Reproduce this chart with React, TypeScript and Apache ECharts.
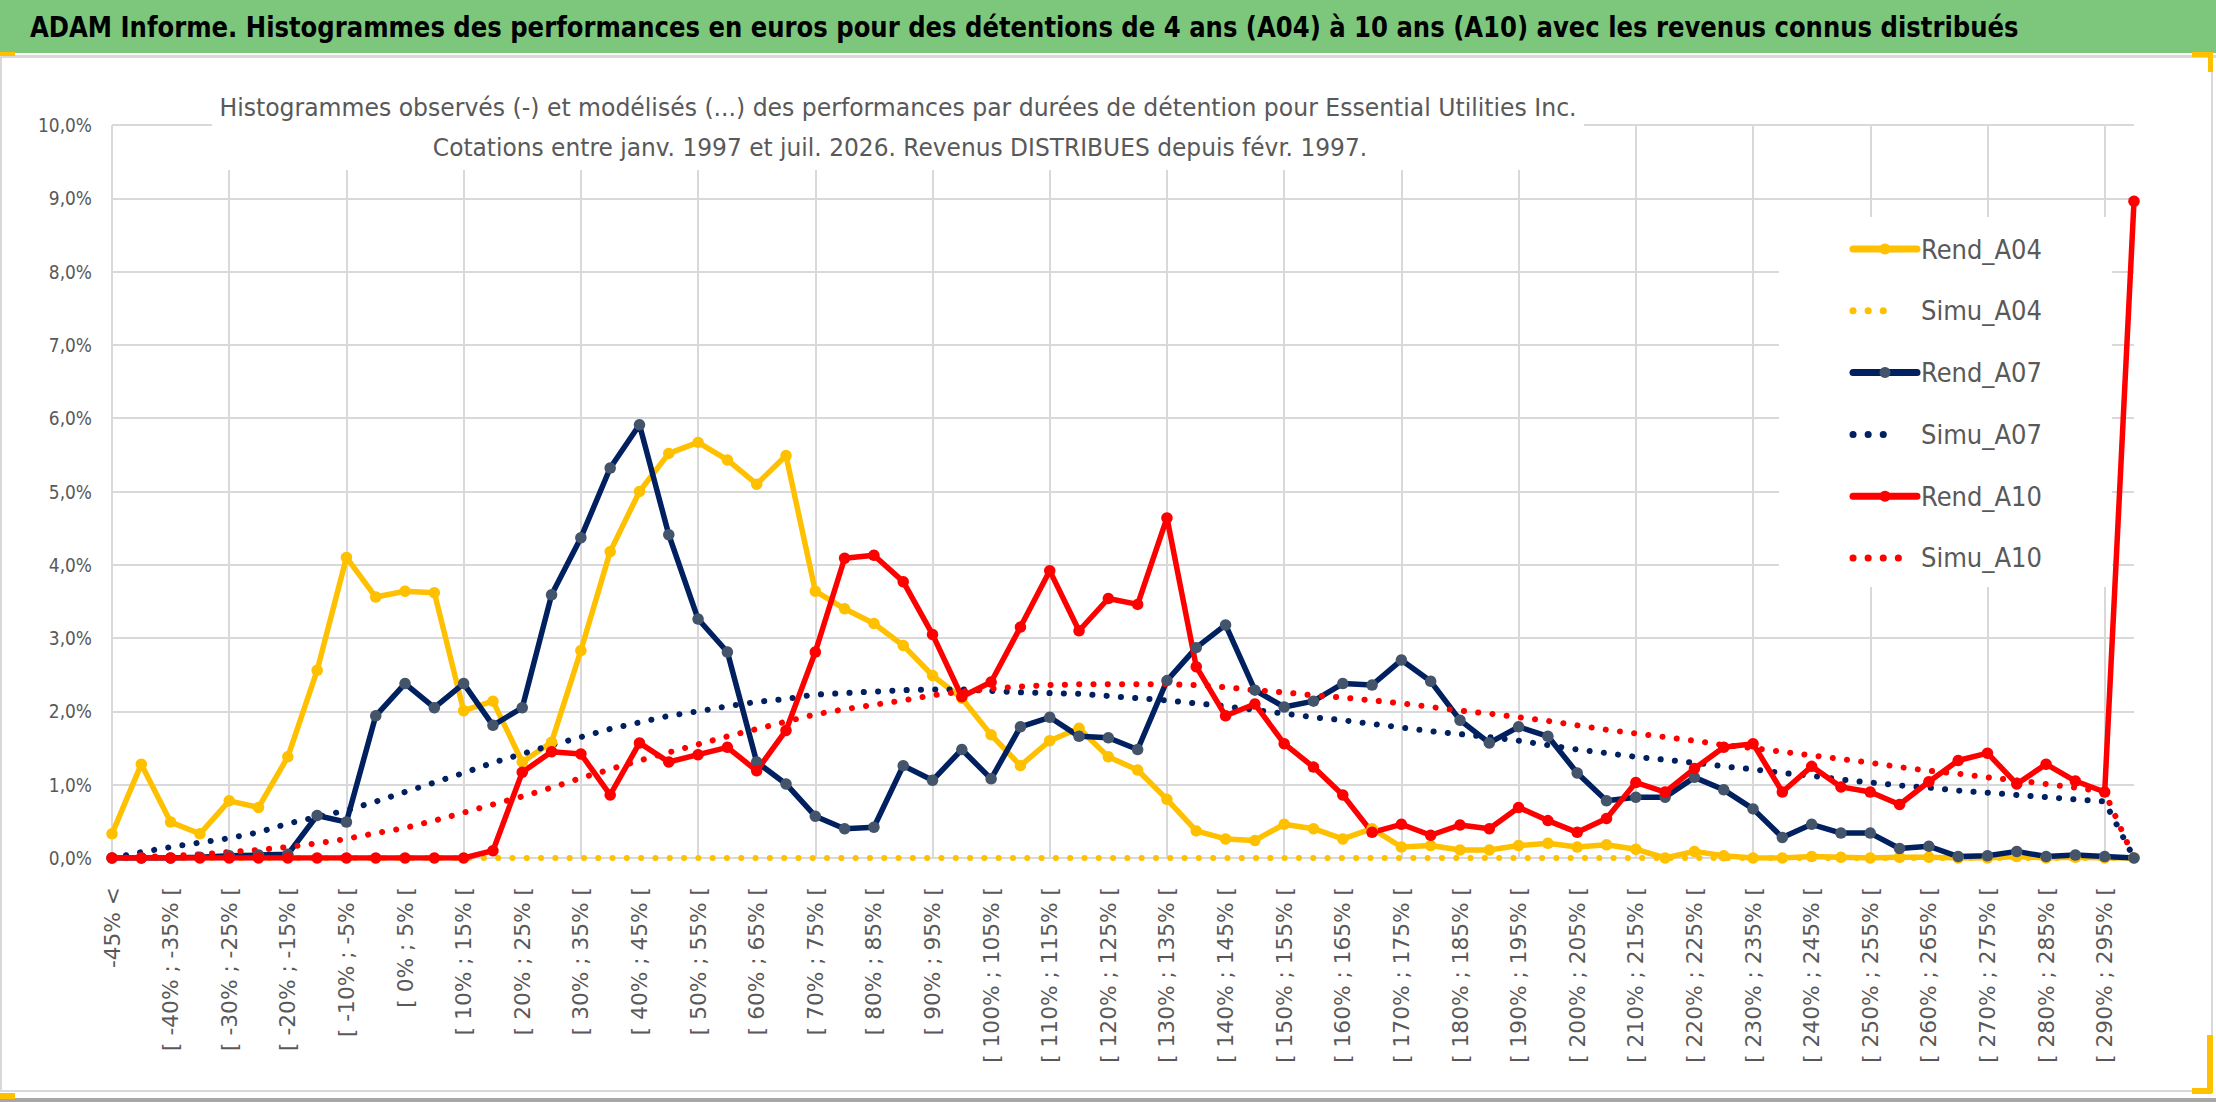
import React, { useRef, useEffect } from 'react';
import * as echarts from 'echarts';

// classes de performance (5 points) ; la dernière regroupe tout ce qui dépasse 295 %
const categories = [
    '-45% <', '[ -45% ; -40% [', '[ -40% ; -35% [', '[ -35% ; -30% [', '[ -30% ; -25% [',
    '[ -25% ; -20% [', '[ -20% ; -15% [', '[ -15% ; -10% [', '[ -10% ; -5% [', '[ -5% ; 0% [',
    '[ 0% ; 5% [', '[ 5% ; 10% [', '[ 10% ; 15% [', '[ 15% ; 20% [', '[ 20% ; 25% [',
    '[ 25% ; 30% [', '[ 30% ; 35% [', '[ 35% ; 40% [', '[ 40% ; 45% [', '[ 45% ; 50% [',
    '[ 50% ; 55% [', '[ 55% ; 60% [', '[ 60% ; 65% [', '[ 65% ; 70% [', '[ 70% ; 75% [',
    '[ 75% ; 80% [', '[ 80% ; 85% [', '[ 85% ; 90% [', '[ 90% ; 95% [', '[ 95% ; 100% [',
    '[ 100% ; 105% [', '[ 105% ; 110% [', '[ 110% ; 115% [', '[ 115% ; 120% [', '[ 120% ; 125% [',
    '[ 125% ; 130% [', '[ 130% ; 135% [', '[ 135% ; 140% [', '[ 140% ; 145% [', '[ 145% ; 150% [',
    '[ 150% ; 155% [', '[ 155% ; 160% [', '[ 160% ; 165% [', '[ 165% ; 170% [', '[ 170% ; 175% [',
    '[ 175% ; 180% [', '[ 180% ; 185% [', '[ 185% ; 190% [', '[ 190% ; 195% [', '[ 195% ; 200% [',
    '[ 200% ; 205% [', '[ 205% ; 210% [', '[ 210% ; 215% [', '[ 215% ; 220% [', '[ 220% ; 225% [',
    '[ 225% ; 230% [', '[ 230% ; 235% [', '[ 235% ; 240% [', '[ 240% ; 245% [', '[ 245% ; 250% [',
    '[ 250% ; 255% [', '[ 255% ; 260% [', '[ 260% ; 265% [', '[ 265% ; 270% [', '[ 270% ; 275% [',
    '[ 275% ; 280% [', '[ 280% ; 285% [', '[ 285% ; 290% [', '[ 290% ; 295% [', '> 295%'
];

// fréquences en %
const rendA04 = [
    0.33, 1.28, 0.49, 0.33, 0.78, 0.69, 1.38, 2.56, 4.10, 3.56,
    3.64, 3.62, 2.01, 2.14, 1.31, 1.58, 2.83, 4.18, 5.00, 5.52,
    5.67, 5.43, 5.10, 5.49, 3.64, 3.40, 3.20, 2.90, 2.49, 2.18,
    1.68, 1.26, 1.60, 1.77, 1.38, 1.20, 0.80, 0.37, 0.26, 0.24,
    0.46, 0.40, 0.26, 0.40, 0.15, 0.17, 0.11, 0.11, 0.17, 0.20,
    0.15, 0.18, 0.12, 0.00, 0.09, 0.03, 0.00, 0.00, 0.02, 0.01,
    0.00, 0.01, 0.01, 0.00, 0.00, 0.02, 0.00, 0.01, 0.00, 0.00
];
const simuA04 = [
    0, 0, 0, 0, 0, 0, 0, 0, 0, 0,
    0, 0, 0, 0, 0, 0, 0, 0, 0, 0,
    0, 0, 0, 0, 0, 0, 0, 0, 0, 0,
    0, 0, 0, 0, 0, 0, 0, 0, 0, 0,
    0, 0, 0, 0, 0, 0, 0, 0, 0, 0,
    0, 0, 0, 0, 0, 0, 0, 0, 0, 0,
    0, 0, 0, 0, 0, 0, 0, 0, 0, 0
];
const rendA07 = [
    0.00, 0.00, 0.00, 0.01, 0.03, 0.04, 0.05, 0.58, 0.49, 1.94,
    2.38, 2.05, 2.38, 1.81, 2.05, 3.59, 4.37, 5.32, 5.91, 4.41,
    3.26, 2.81, 1.31, 1.01, 0.57, 0.40, 0.42, 1.26, 1.06, 1.48,
    1.08, 1.79, 1.92, 1.66, 1.64, 1.48, 2.42, 2.87, 3.18, 2.29,
    2.06, 2.14, 2.38, 2.36, 2.70, 2.41, 1.88, 1.57, 1.79, 1.66,
    1.16, 0.78, 0.83, 0.83, 1.10, 0.93, 0.67, 0.28, 0.46, 0.34,
    0.34, 0.13, 0.16, 0.02, 0.03, 0.09, 0.02, 0.04, 0.02, 0.00
];
const simuA07 = [
    0.00, 0.08, 0.15, 0.21, 0.27, 0.35, 0.47, 0.56, 0.65, 0.77,
    0.90, 1.03, 1.16, 1.30, 1.42, 1.54, 1.65, 1.76, 1.85, 1.94,
    2.00, 2.07, 2.13, 2.17, 2.23, 2.25, 2.27, 2.29, 2.30, 2.30,
    2.28, 2.26, 2.25, 2.24, 2.21, 2.18, 2.15, 2.11, 2.07, 2.02,
    1.97, 1.92, 1.88, 1.83, 1.78, 1.73, 1.69, 1.65, 1.60, 1.54,
    1.48, 1.43, 1.38, 1.34, 1.30, 1.25, 1.21, 1.16, 1.12, 1.07,
    1.03, 0.99, 0.96, 0.92, 0.89, 0.86, 0.83, 0.80, 0.77, 0.00
];
const rendA10 = [
    0.00, 0.00, 0.00, 0.00, 0.00, 0.00, 0.00, 0.00, 0.00, 0.00,
    0.00, 0.00, 0.00, 0.10, 1.17, 1.45, 1.42, 0.86, 1.57, 1.31,
    1.41, 1.51, 1.19, 1.74, 2.81, 4.09, 4.13, 3.77, 3.05, 2.20,
    2.40, 3.15, 3.92, 3.10, 3.54, 3.46, 4.64, 2.61, 1.94, 2.10,
    1.56, 1.24, 0.86, 0.35, 0.46, 0.31, 0.45, 0.40, 0.69, 0.51,
    0.35, 0.54, 1.03, 0.90, 1.22, 1.51, 1.56, 0.90, 1.25, 0.97,
    0.90, 0.73, 1.04, 1.33, 1.43, 1.01, 1.28, 1.05, 0.90, 8.96
];
const simuA10 = [
    0.00, 0.01, 0.03, 0.05, 0.08, 0.11, 0.15, 0.20, 0.26, 0.34,
    0.41, 0.51, 0.62, 0.73, 0.84, 0.96, 1.09, 1.21, 1.33, 1.44,
    1.55, 1.66, 1.76, 1.86, 1.96, 2.03, 2.09, 2.15, 2.22, 2.27,
    2.31, 2.34, 2.36, 2.37, 2.37, 2.37, 2.37, 2.36, 2.33, 2.29,
    2.26, 2.22, 2.19, 2.15, 2.11, 2.06, 2.01, 1.97, 1.92, 1.87,
    1.81, 1.75, 1.70, 1.65, 1.60, 1.54, 1.50, 1.45, 1.40, 1.35,
    1.30, 1.24, 1.19, 1.15, 1.10, 1.06, 1.01, 0.96, 0.90, 0.00
];

const TITLE = 'ADAM Informe. Histogrammes des performances en euros pour des détentions de 4 ans (A04) à 10 ans (A10) avec les revenus connus distribués';
const SUB1 = 'Histogrammes observés (-) et modélisés (...) des performances par durées de détention pour Essential Utilities Inc.';
const SUB2 = 'Cotations entre janv. 1997 et juil. 2026. Revenus DISTRIBUES depuis févr. 1997.';

const YELLOW = '#FFC000';
const NAVY = '#002060';
const NAVY_MARK = '#44546A';
const RED = '#FF0000';
const GREY_TXT = '#595959';
const GRID = '#D9D9D9';
const DOTS = [0.1, 14.2];

const W = 2216;
const H = 1102;

// mesure de texte pour choisir une police étroite façon Calibri
const ctx = document.createElement('canvas').getContext('2d') as CanvasRenderingContext2D;
const hasFont = (name: string) => {
    const probe = 'mmmmmwwwwlli 10,0% Rend_A04';
    ctx.font = '40px monospace';
    const base = ctx.measureText(probe).width;
    ctx.font = `40px "${name}", monospace`;
    return ctx.measureText(probe).width !== base;
};
const narrowName = ['Liberation Sans Narrow', 'DejaVu Sans Condensed', 'Liberation Sans'].find(hasFont) || 'sans-serif';
const NARROW = `"${narrowName}", "Liberation Sans", sans-serif`;
const WIDE = '"DejaVu Sans", Verdana, sans-serif';
const fit = (text: string, family: string, weight: string, width: number) => {
    ctx.font = `${weight} 100px ${family}`;
    return Math.round((1000 * width) / ctx.measureText(text).width) / 10;
};
// étirement horizontal pour tenir une largeur donnée à une taille donnée
const squeeze = (text: string, font: string, width: number) => {
    ctx.font = font;
    return width / ctx.measureText(text).width;
};

const label = (text: string, x: number, y: number, font: string, fill: string, width: number, align: string, z = 11) => ({
    type: 'text',
    z,
    silent: true,
    x,
    y,
    scaleX: squeeze(text, font, width),
    style: {
        text,
        fill,
        font,
        textAlign: align,
        textVerticalAlign: 'middle',
        align,
        verticalAlign: 'middle'
    }
});

const App = () => {
    const chartRef = useRef<HTMLDivElement>(null);

    useEffect(() => {
        const myChart = echarts.init(chartRef.current, null, { renderer: 'svg' });

        const titleFont = `bold 27.5px ${NARROW}`;
        const subFont = `25px ${NARROW}`;
        const legendFont = `27px ${NARROW}`;
        const yLabelSize = fit('10,0%', NARROW, 'normal', 54);
        const xLabelSize = fit('[ 290% ; 295% [', WIDE, 'normal', 176);

        const legendItems = [
            { name: 'Rend_A04', color: YELLOW, mark: YELLOW, dotted: false, len: 64 },
            { name: 'Simu_A04', color: YELLOW, mark: YELLOW, dotted: true, len: 45 },
            { name: 'Rend_A07', color: NAVY, mark: NAVY_MARK, dotted: false, len: 64 },
            { name: 'Simu_A07', color: NAVY, mark: NAVY, dotted: true, len: 45 },
            { name: 'Rend_A10', color: RED, mark: RED, dotted: false, len: 64 },
            { name: 'Simu_A10', color: RED, mark: RED, dotted: true, len: 60 }
        ];

        const legendGraphics: any[] = [];
        legendItems.forEach((it, i) => {
            const y = 249 + i * 61.8;
            legendGraphics.push({
                type: 'line',
                z: 10,
                silent: true,
                shape: { x1: 1853, y1: y, x2: 1853 + it.len, y2: y },
                style: it.dotted
                    ? { stroke: it.color, lineWidth: 7, lineDash: [0.1, 15], lineCap: 'round' }
                    : { stroke: it.color, lineWidth: 7, lineCap: 'round' }
            });
            if (!it.dotted) {
                legendGraphics.push({
                    type: 'circle',
                    z: 11,
                    silent: true,
                    shape: { cx: 1885, cy: y, r: 5.5 },
                    style: { fill: it.mark }
                });
            }
            legendGraphics.push(label(it.name, 1921, y, legendFont, GREY_TXT, 121, 'left'));
        });

        const rend = (name: string, data: number[], color: string, mark: string) => ({
            name,
            type: 'line',
            data,
            symbol: 'circle',
            symbolSize: 11.5,
            showSymbol: true,
            lineStyle: { color, width: 5.5 },
            itemStyle: { color: mark }
        });
        const simu = (name: string, data: number[], color: string) => ({
            name,
            type: 'line',
            data,
            symbol: 'none',
            lineStyle: { color, width: 6, type: DOTS, cap: 'round' },
            itemStyle: { color }
        });

        const option = {
            animation: false,
            grid: { left: 112, right: W - 2134, top: 125, bottom: H - 858, containLabel: false },
            xAxis: {
                type: 'category',
                data: categories,
                boundaryGap: false,
                axisLine: { show: true, lineStyle: { color: GRID, width: 2 } },
                axisTick: { show: false },
                axisLabel: {
                    interval: 1,
                    rotate: 90,
                    margin: 29,
                    color: GREY_TXT,
                    fontFamily: WIDE,
                    fontSize: xLabelSize
                },
                splitLine: { show: true, interval: 3, lineStyle: { color: GRID, width: 2 } }
            },
            yAxis: {
                type: 'value',
                min: 0,
                max: 10,
                interval: 1,
                axisLine: { show: false },
                axisTick: { show: false },
                axisLabel: {
                    margin: 20,
                    color: GREY_TXT,
                    fontFamily: NARROW,
                    fontSize: yLabelSize,
                    formatter: (v: number) => v.toFixed(1).replace('.', ',') + '%'
                },
                splitLine: { lineStyle: { color: GRID, width: 2 } }
            },
            graphic: [
                // bandeau vert du titre
                { type: 'rect', z: 0, silent: true, shape: { x: 0, y: 0, width: W, height: 53 }, style: { fill: '#7DC77D' } },
                { type: 'rect', z: 0, silent: true, shape: { x: 0, y: 55, width: W, height: 3 }, style: { fill: GRID } },
                label(TITLE, 30, 27, titleFont, '#000000', 1990, 'left', 12),
                // cadre
                { type: 'rect', z: 0, silent: true, shape: { x: 1, y: 57, width: 2211, height: 1034 }, style: { fill: 'none', stroke: GRID, lineWidth: 2 } },
                { type: 'rect', z: 0, silent: true, shape: { x: 0, y: 1098, width: W, height: 4 }, style: { fill: '#A6A6A6' } },
                // poignées de sélection
                { type: 'rect', z: 12, silent: true, shape: { x: 0, y: 52, width: 15, height: 4 }, style: { fill: YELLOW } },
                { type: 'rect', z: 12, silent: true, shape: { x: 0, y: 1093, width: 15, height: 6 }, style: { fill: YELLOW } },
                { type: 'rect', z: 12, silent: true, shape: { x: 2192, y: 52, width: 20, height: 5 }, style: { fill: YELLOW } },
                { type: 'rect', z: 12, silent: true, shape: { x: 2208, y: 52, width: 5, height: 20 }, style: { fill: YELLOW } },
                { type: 'rect', z: 12, silent: true, shape: { x: 2192, y: 1088, width: 20, height: 6 }, style: { fill: YELLOW } },
                { type: 'rect', z: 12, silent: true, shape: { x: 2207, y: 1035, width: 6, height: 58 }, style: { fill: YELLOW } },
                // sous-titre sur fond blanc
                { type: 'rect', z: 1, silent: true, shape: { x: 212, y: 64, width: 1372, height: 106 }, style: { fill: '#ffffff' } },
                label(SUB1, 898, 107, subFont, GREY_TXT, 1358, 'center'),
                label(SUB2, 900, 147, subFont, GREY_TXT, 935, 'center'),
                // légende
                { type: 'rect', z: 1, silent: true, shape: { x: 1779, y: 217, width: 333, height: 370 }, style: { fill: '#ffffff' } },
                ...legendGraphics
            ],
            series: [
                rend('Rend_A04', rendA04, YELLOW, YELLOW),
                simu('Simu_A04', simuA04, YELLOW),
                rend('Rend_A07', rendA07, NAVY, NAVY_MARK),
                simu('Simu_A07', simuA07, NAVY),
                rend('Rend_A10', rendA10, RED, RED),
                simu('Simu_A10', simuA10, RED)
            ]
        };

        myChart.setOption(option);

        return () => {
            myChart.dispose();
        };
    }, []);

    return (
        <div
            ref={chartRef}
            style={{
                position: 'absolute',
                left: 0,
                top: 0,
                width: W + 'px',
                height: H + 'px',
                background: '#ffffff'
            }}
        />
    );
};

export default App;
